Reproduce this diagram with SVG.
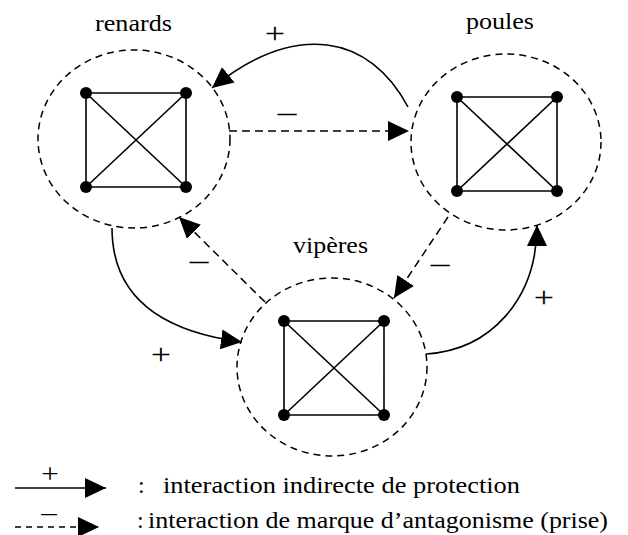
<svg xmlns="http://www.w3.org/2000/svg" width="628" height="535" viewBox="0 0 628 535">
  <style>
    .ring { fill: none; stroke: #000; stroke-width: 1.5; stroke-dasharray: 7 5; }
    .edge { stroke: #000; stroke-width: 1.6; fill: none; }
    .dot { fill: #000; }
    .pos { fill: none; stroke: #000; stroke-width: 1.6; }
    .neg { fill: none; stroke: #000; stroke-width: 1.5; stroke-dasharray: 8 5; }
    .name { font-size: 24px; }
    .sign { font-size: 30px; text-anchor: middle; }
    .leg { font-size: 24px; }
  </style>
  <defs>
    <marker id="head" markerUnits="userSpaceOnUse" markerWidth="21" markerHeight="20" refX="21" refY="10" orient="auto">
      <path d="M0,0 L21,10 L0,20 z" fill="#000"/>
    </marker>
    <!-- complete graph on four individuals -->
    <g id="clique">
      <path class="edge" d="M0,0 H100 V94 H0 Z M0,0 L100,94 M100,0 L0,94"/>
      <circle class="dot" cx="0" cy="0" r="6"/>
      <circle class="dot" cx="100" cy="0" r="6"/>
      <circle class="dot" cx="0" cy="94" r="6"/>
      <circle class="dot" cx="100" cy="94" r="6"/>
    </g>
  </defs>

  <g font-family="Liberation Serif, serif" fill="#000">
  <g id="renards">
    <ellipse class="ring" cx="134" cy="139" rx="96" ry="89"/>
    <use href="#clique" x="86" y="93"/>
    <text class="name" x="95" y="30.5" textLength="77" lengthAdjust="spacingAndGlyphs">renards</text>
  </g>

  <g id="poules">
    <ellipse class="ring" cx="506" cy="142" rx="95" ry="88"/>
    <use href="#clique" x="457" y="97"/>
    <text class="name" x="466" y="29" textLength="68" lengthAdjust="spacingAndGlyphs">poules</text>
  </g>

  <g id="viperes">
    <ellipse class="ring" cx="332" cy="367" rx="95" ry="89"/>
    <use href="#clique" x="284" y="321"/>
    <text class="name" x="293" y="253" textLength="75" lengthAdjust="spacingAndGlyphs">vipères</text>
  </g>

  <g id="connectors">
    <!-- poules protect renards -->
    <path class="pos" d="M408,107 C370,35 296,20 212,88" marker-end="url(#head)"/>
    <text class="sign" transform="translate(275,42.5) scale(1.2,1)">+</text>
    <!-- renards prey on poules -->
    <path class="neg" d="M229,131 L409,131" marker-end="url(#head)"/>
    <text class="sign" transform="translate(287,122) scale(1.25,1)">–</text>
    <!-- viperes prey on renards -->
    <path class="neg" d="M265,302 L179,217" marker-end="url(#head)"/>
    <text class="sign" transform="translate(199,270) scale(1.25,1)">–</text>
    <!-- poules prey on viperes -->
    <path class="neg" d="M448,217 L394,298" marker-end="url(#head)"/>
    <text class="sign" transform="translate(440,273) scale(1.25,1)">–</text>
    <!-- renards protect viperes -->
    <path class="pos" d="M112,228 C112,300 165,332 242,342" marker-end="url(#head)"/>
    <text class="sign" transform="translate(161,363.5) scale(1.2,1)">+</text>
    <!-- viperes protect poules -->
    <path class="pos" d="M426,354 C490,350 537,300 537,225" marker-end="url(#head)"/>
    <text class="sign" transform="translate(544,307) scale(1.2,1)">+</text>
  </g>

  <g id="legend">
    <path class="pos" d="M15,488 L106,488" marker-end="url(#head)"/>
    <text class="sign" style="font-size:27px" transform="translate(50,483) scale(1.15,1)">+</text>
    <text class="leg" x="138" y="493">:</text>
    <text class="leg" x="163" y="493" textLength="357" lengthAdjust="spacingAndGlyphs">interaction indirecte de protection</text>

    <path class="pos" d="M15,527 L99,527" style="stroke-dasharray:6 5" marker-end="url(#head)"/>
    <text class="sign" style="font-size:27px" transform="translate(49,521) scale(1.15,1)">–</text>
    <text class="leg" x="137" y="528">:</text>
    <text class="leg" x="148" y="528" textLength="460" lengthAdjust="spacingAndGlyphs">interaction de marque d’antagonisme (prise)</text>
  </g>
  </g>
</svg>
